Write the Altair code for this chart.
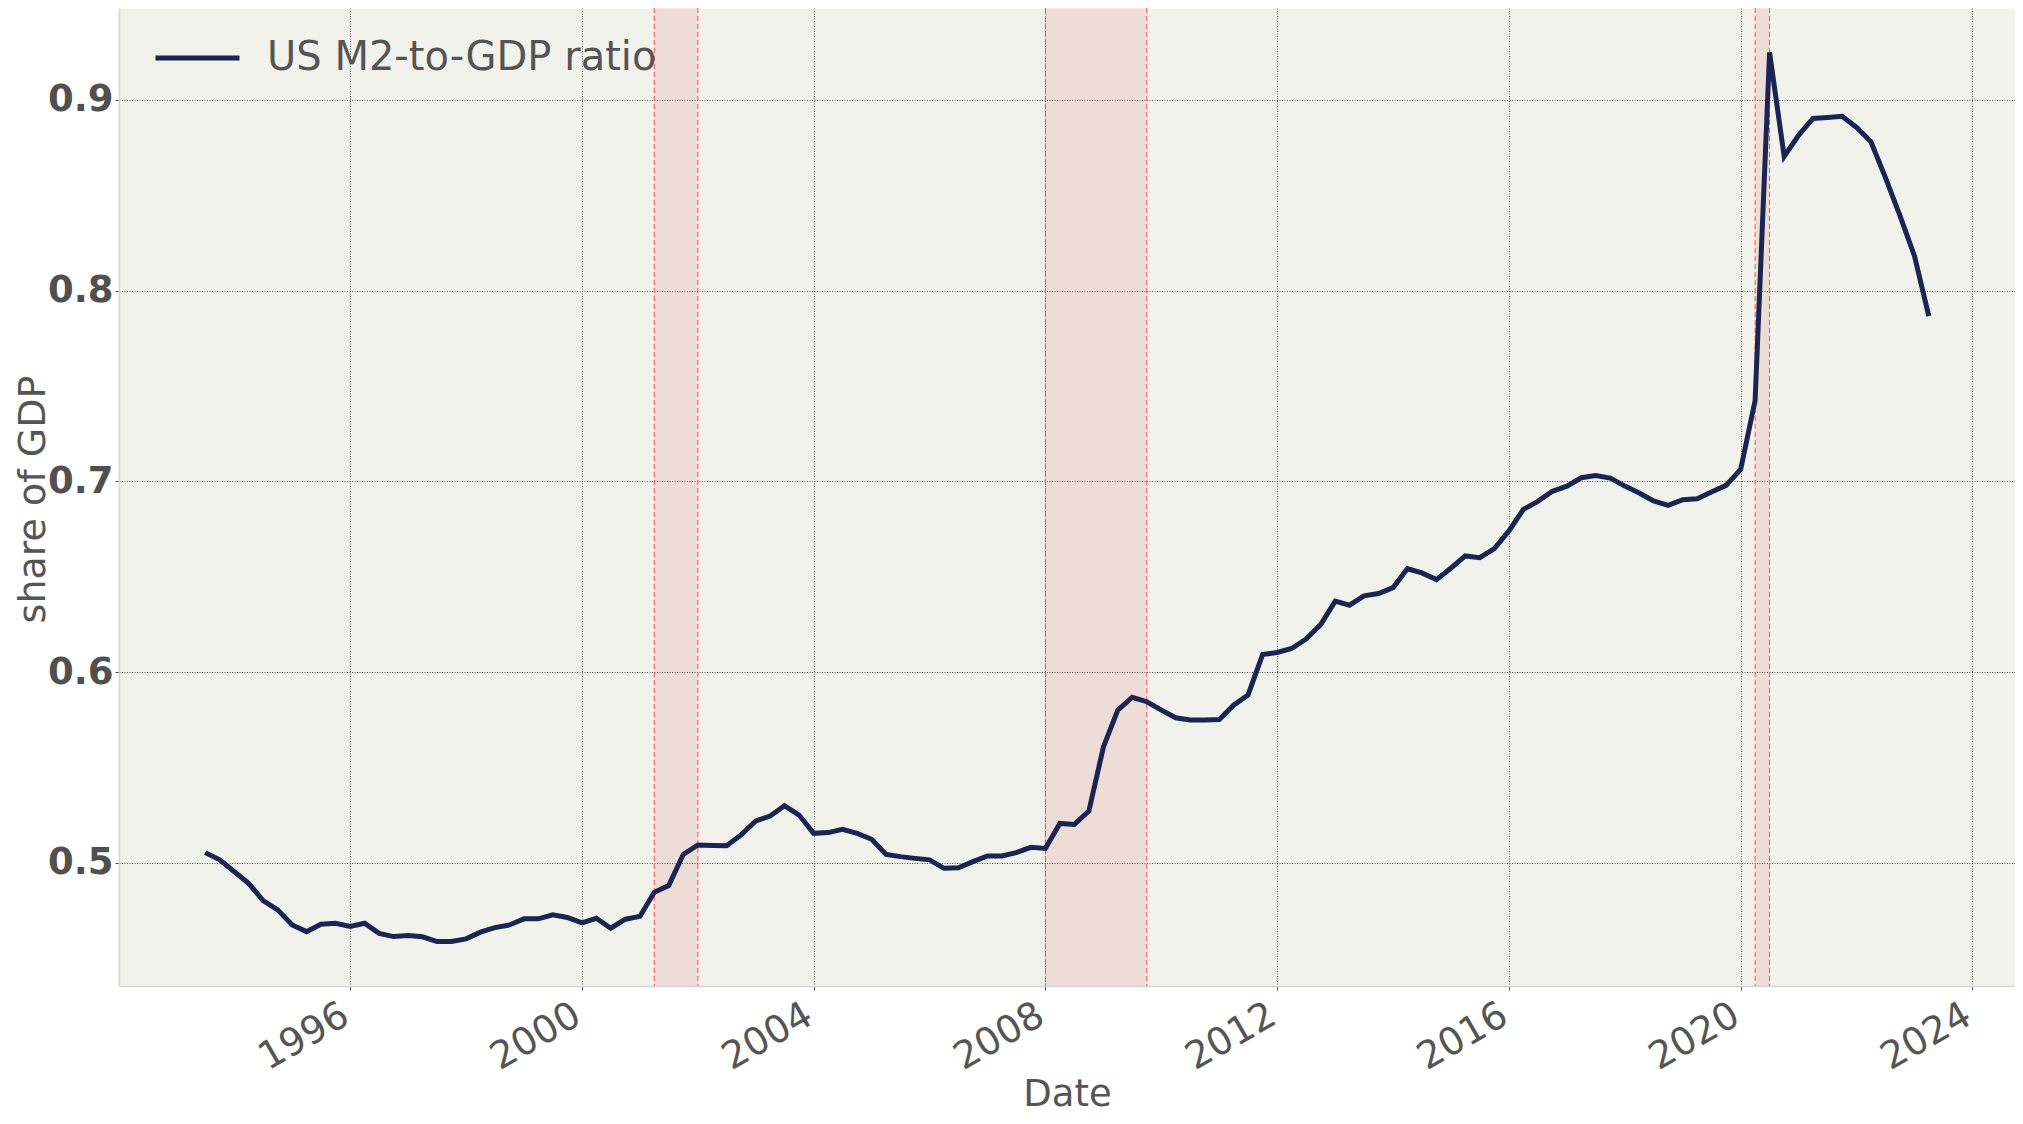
import altair as alt
import pandas as pd

# ---- data (quarterly, first quarter = 1993-07-01) ----
START_QUARTER = "1993-07-01"
ratio = [
    0.5054, 0.5016, 0.4954, 0.4893, 0.4803, 0.4754, 0.4675, 0.4640, 0.4679, 0.4684,
    0.4667, 0.4684, 0.4631, 0.4614, 0.4620, 0.4613, 0.4588, 0.4588, 0.4602, 0.4637,
    0.4661, 0.4675, 0.4707, 0.4707, 0.4728, 0.4714, 0.4686, 0.4710, 0.4658, 0.4705,
    0.4720, 0.4846, 0.4881, 0.5045, 0.5094, 0.5092, 0.5090, 0.5147, 0.5220, 0.5246,
    0.5300, 0.5251, 0.5155, 0.5159, 0.5176, 0.5155, 0.5124, 0.5045, 0.5033, 0.5024,
    0.5016, 0.4972, 0.4975, 0.5007, 0.5037, 0.5037, 0.5054, 0.5082, 0.5076, 0.5207,
    0.5202, 0.5272, 0.5609, 0.5801, 0.5868, 0.5845, 0.5801, 0.5761, 0.5749, 0.5749,
    0.5752, 0.5827, 0.5880, 0.6092, 0.6103, 0.6124, 0.6173, 0.6249, 0.6372, 0.6351,
    0.6400, 0.6412, 0.6443, 0.6542, 0.6520, 0.6485, 0.6546, 0.6609, 0.6600, 0.6647,
    0.6740, 0.6853, 0.6895, 0.6948, 0.6975, 0.7019, 0.7031, 0.7017, 0.6975, 0.6939,
    0.6897, 0.6874, 0.6904, 0.6909, 0.6944, 0.6979, 0.7063, 0.7424, 0.9248, 0.8703,
    0.8815, 0.8902, 0.8907, 0.8913, 0.8855, 0.8780, 0.8593, 0.8393, 0.8180, 0.7866,
]
series_name = "US M2-to-GDP ratio"

rec_start = ["2001-04-01", "2008-01-01", "2020-04-01"]
rec_end = ["2002-01-01", "2009-10-01", "2020-07-01"]

tick_years = [1996, 2000, 2004, 2008, 2012, 2016, 2020, 2024]
y_ticks = [0.5, 0.6, 0.7, 0.8, 0.9]

# ---- build tables ----
dates = pd.date_range(START_QUARTER, periods=len(ratio), freq="QS")
df = pd.DataFrame({"date": dates.strftime("%Y-%m-%d"), "ratio": ratio, "series": series_name})
rec = pd.DataFrame({"start": rec_start, "end": rec_end})
rec_edges = pd.DataFrame({"edge": rec_start + rec_end})


def ms(ts):
    return int(pd.Timestamp(ts).timestamp() * 1000)


span = dates[-1] - dates[0]
x_domain = [ms(dates[0] - span * 0.05), ms(dates[-1] + span * 0.05)]
yr = max(ratio) - min(ratio)
y_domain = [min(ratio) - 0.05 * yr, max(ratio) + 0.05 * yr]
x_tick_values = [ms(f"{y}-01-01") for y in tick_years]

FONT = "DejaVu Sans"
TXT = "#555555"

x_scale = alt.Scale(type="utc", domain=x_domain, nice=False)
y_scale = alt.Scale(domain=y_domain, nice=False, zero=False)

x_axis = alt.Axis(
    values=x_tick_values, format="%Y", labelAngle=330, labelAlign="right",
    labelBaseline="top", labelFontSize=38, labelPadding=6, labelOffset=-14,
    labelOverlap=False, labelColor=TXT, labelFont=FONT,
    title="Date", titleFontSize=37, titleFontWeight="normal", titleColor=TXT,
    titleFont=FONT, titleX=948, titleY=119, titleBaseline="alphabetic",
)
y_axis = alt.Axis(
    values=y_ticks, format=".1f", labelFontSize=37, labelFontWeight="bold",
    labelColor="#505050", labelFont=FONT, labelPadding=2,
    title="share of GDP", titleFontSize=38, titleFontWeight="normal", titleColor=TXT,
    titleFont=FONT, titleAngle=270, titleX=-75, titleY=491,
    titleBaseline="alphabetic", titleAlign="center",
)

shade = alt.Chart(rec).mark_rect(color="#d9583b", opacity=0.13).encode(
    x=alt.X("start:T", scale=x_scale, axis=x_axis),
    x2="end:T",
)
edges = alt.Chart(rec_edges).mark_rule(
    color="#ff4d4d", strokeDash=[5, 3], strokeWidth=1
).encode(x=alt.X("edge:T", scale=x_scale, axis=x_axis))

line = alt.Chart(df).mark_line(strokeWidth=5).encode(
    x=alt.X("date:T", scale=x_scale, axis=x_axis),
    y=alt.Y("ratio:Q", scale=y_scale, axis=y_axis),
    color=alt.Color(
        "series:N",
        scale=alt.Scale(range=["#1c2452"]),
        legend=alt.Legend(
            title=None, orient="none", legendX=34, legendY=5.5, padding=0,
            symbolType="stroke", symbolSize=7056, symbolStrokeWidth=5,
            labelFontSize=40, labelFont=FONT, labelColor=TXT, labelOffset=25,
            labelLimit=0, labelBaseline="middle",
        ),
    ),
)

chart = (
    alt.layer(shade, edges, line)
    .properties(
        width=1896, height=978,
        padding={"left": 111, "top": 0, "right": 0, "bottom": 128},
        autosize=alt.AutoSizeParams(type="none"),
        background="white",
    )
    .configure_view(fill="#f2f2ed", stroke="transparent")
    .configure_axis(
        domainColor="#d6d6d6", domainWidth=1.5, tickColor="#555555", tickSize=4,
        grid=True, gridColor="#444444", gridDash=[1, 1.5], gridOpacity=0.85, gridWidth=1,
    )
)

chart.save("out.html", embed_options={"renderer": "svg", "actions": False})
